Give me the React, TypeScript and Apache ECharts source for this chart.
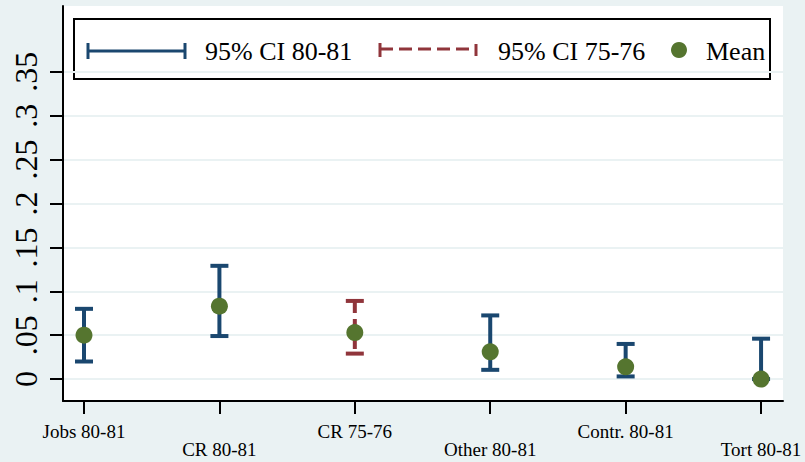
import React, { useEffect, useRef } from "react";
import * as echarts from "echarts";

const categories = ["Jobs 80-81", "CR 80-81", "CR 75-76", "Other 80-81", "Contr. 80-81", "Tort 80-81"];
const periods = ["80-81", "80-81", "75-76", "80-81", "80-81", "80-81"];
const means = [0.05, 0.083, 0.053, 0.031, 0.014, 0.0];
const lower = [0.02, 0.049, 0.029, 0.0105, 0.003, 0.0];
const upper = [0.08, 0.129, 0.089, 0.0725, 0.04, 0.046];
const yTicks = [0, 0.05, 0.1, 0.15, 0.2, 0.25, 0.3, 0.35];
const xPositions = [1, 2, 3, 4, 5, 6];
const legendLabels = ["95% CI 80-81", "95% CI 75-76", "Mean"];

const NAVY = "#1a476f";
const MAROON = "#90353b";
const GREEN = "#55752f";
const BG = "#eaf2f3";
const FONT = "'Liberation Serif', 'DejaVu Serif', serif";

export default function App() {
  const ref = useRef<HTMLDivElement>(null);
  useEffect(() => {
    if (!ref.current) return;
    const chart = echarts.init(ref.current, undefined, { renderer: "svg" });
    const ciData = xPositions.map((x, i) => [x, lower[i], upper[i], periods[i] === "75-76" ? 1 : 0]);
    const option: any = {
      animation: false,
      backgroundColor: BG,
      grid: {
        left: 63,
        right: 22,
        top: 6,
        bottom: 61,
        show: true,
        backgroundColor: "#ffffff",
        borderWidth: 0,
      },
      xAxis: {
        type: "value",
        min: 0.845,
        max: 6.162,
        axisLine: { show: true, onZero: false, lineStyle: { color: "#000", width: 2 } },
        axisTick: { show: true, customValues: xPositions, length: 13, lineStyle: { color: "#000", width: 2 } },
        axisLabel: {
          customValues: xPositions,
          margin: 21,
          fontFamily: FONT,
          fontSize: 19,
          lineHeight: 18,
          color: "#000",
          formatter: (v: number) => {
            const i = Math.round(v) - 1;
            return i % 2 === 0 ? categories[i] : "\n" + categories[i];
          },
        },
        splitLine: { show: false },
      },
      yAxis: {
        type: "value",
        min: -0.025,
        max: 0.425,
        axisLine: { show: true, lineStyle: { color: "#000", width: 2 } },
        axisTick: { show: true, customValues: yTicks, length: 13, lineStyle: { color: "#000", width: 2 } },
        axisLabel: {
          customValues: yTicks,
          rotate: 90,
          margin: 21,
          fontFamily: FONT,
          fontSize: 32,
          color: "#000",
          formatter: (v: number) => {
            const s = String(Math.round(v * 100) / 100);
            return s.startsWith("0.") ? s.slice(1) : s;
          },
        },
        splitLine: { show: true, lineStyle: { color: BG, width: 2 } },
      },
      series: [
        {
          type: "custom",
          z: 2,
          data: ciData,
          renderItem: (params: any, api: any) => {
            const x = api.value(0);
            const lo = api.coord([x, api.value(1)]);
            const hi = api.coord([x, api.value(2)]);
            const red = api.value(3) === 1;
            const color = red ? MAROON : NAVY;
            const hw = 9;
            return {
              type: "group",
              children: [
                {
                  type: "line",
                  shape: { x1: hi[0], y1: hi[1], x2: lo[0], y2: lo[1] },
                  style: { stroke: color, lineWidth: 4, lineDash: red ? [12, 6] : null },
                },
                {
                  type: "line",
                  shape: { x1: hi[0] - hw, y1: hi[1], x2: hi[0] + hw, y2: hi[1] },
                  style: { stroke: color, lineWidth: 4 },
                },
                {
                  type: "line",
                  shape: { x1: lo[0] - hw, y1: lo[1], x2: lo[0] + hw, y2: lo[1] },
                  style: { stroke: color, lineWidth: 4 },
                },
              ],
            };
          },
        },
        {
          type: "scatter",
          z: 3,
          symbol: "circle",
          symbolSize: 17,
          itemStyle: { color: GREEN, opacity: 1 },
          data: xPositions.map((x, i) => [x, means[i]]),
        },
      ],
      graphic: [
        {
          type: "group",
          z: 100,
          children: [
            {
              type: "rect",
              shape: { x: 74, y: 19, width: 696, height: 60 },
              style: { fill: "#ffffff", stroke: "#000", lineWidth: 2 },
            },
            { type: "line", shape: { x1: 87, y1: 51, x2: 186, y2: 51 }, style: { stroke: NAVY, lineWidth: 3 } },
            { type: "line", shape: { x1: 88, y1: 43, x2: 88, y2: 59 }, style: { stroke: NAVY, lineWidth: 3 } },
            { type: "line", shape: { x1: 185, y1: 43, x2: 185, y2: 59 }, style: { stroke: NAVY, lineWidth: 3 } },
            {
              type: "text",
              x: 205,
              y: 51,
              style: { text: legendLabels[0], font: "26px " + FONT, fill: "#000", verticalAlign: "middle", textAlign: "left" },
            },
            { type: "line", shape: { x1: 380, y1: 49, x2: 476, y2: 49 }, style: { stroke: MAROON, lineWidth: 3, lineDash: [13, 6] } },
            { type: "line", shape: { x1: 380, y1: 43, x2: 380, y2: 57 }, style: { stroke: MAROON, lineWidth: 3 } },
            { type: "line", shape: { x1: 476, y1: 44, x2: 476, y2: 56 }, style: { stroke: MAROON, lineWidth: 3 } },
            {
              type: "text",
              x: 498,
              y: 51,
              style: { text: legendLabels[1], font: "26px " + FONT, fill: "#000", verticalAlign: "middle", textAlign: "left" },
            },
            { type: "circle", shape: { cx: 679, cy: 50, r: 8 }, style: { fill: GREEN } },
            {
              type: "text",
              x: 706,
              y: 51,
              style: { text: legendLabels[2], font: "26px " + FONT, fill: "#000", verticalAlign: "middle", textAlign: "left" },
            },
          ],
        },
      ],
    };
    chart.setOption(option);
    return () => chart.dispose();
  }, []);
  return <div ref={ref} style={{ position: "absolute", left: 0, top: 0, width: 805, height: 462 }} />;
}
